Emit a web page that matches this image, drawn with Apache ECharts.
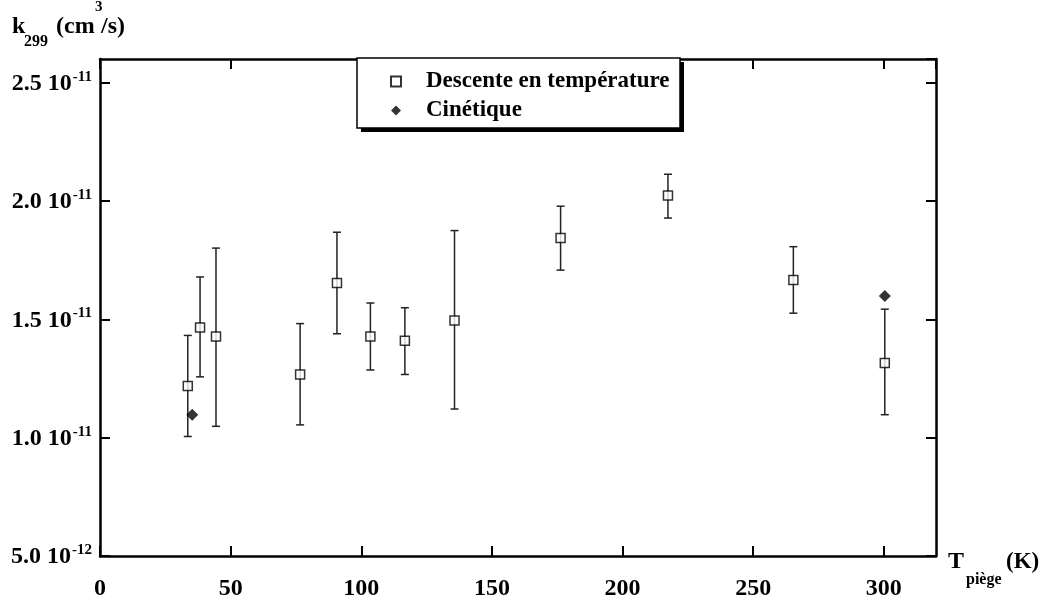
<!DOCTYPE html>
<html>
<head>
<meta charset="utf-8">
<script src="https://cdn.jsdelivr.net/npm/echarts@6/dist/echarts.min.js"></script>
<style>
html,body{margin:0;padding:0;background:#fff;}
#chart{width:1039px;height:601px;}
</style>
</head>
<body>
<div id="chart"></div>
<script>
// Trap temperature (K) and rate constant k299 in units of 1e-11 cm^3/s
const tempDescente = [33.6, 38.3, 44.4, 76.6, 90.7, 103.5, 116.7, 135.7, 176.3, 217.4, 265.4, 300.4];
const kDescente    = [1.218, 1.465, 1.427, 1.267, 1.654, 1.427, 1.409, 1.495, 1.844, 2.023, 1.666, 1.315];
const errLow       = [1.005, 1.257, 1.048, 1.054, 1.439, 1.286, 1.267, 1.121, 1.708, 1.928, 1.526, 1.097];
const errHigh      = [1.432, 1.679, 1.801, 1.482, 1.868, 1.569, 1.549, 1.875, 1.978, 2.113, 1.807, 1.543];
const tempCinetique = [35.3, 300.4];
const kCinetique    = [1.097, 1.599];
const seriesNames = ['Descente en température', 'Cinétique'];
const xTicks = [0, 50, 100, 150, 200, 250, 300];
const yTicks = [0.5, 1.0, 1.5, 2.0, 2.5];

const FONT = '"Liberation Serif", "Times New Roman", serif';
const chart = echarts.init(document.getElementById('chart'));

function yLabel(v) {
  if (v < 1) return '{m|' + (v * 10).toFixed(1) + ' 10}{e|-12}';
  return '{m|' + v.toFixed(1) + ' 10}{e|-11}';
}

const descData = tempDescente.map((t, i) => [t, kDescente[i]]);
const errData = tempDescente.map((t, i) => [t, errLow[i], errHigh[i]]);
const cinData = tempCinetique.map((t, i) => [t, kCinetique[i]]);

const axisLineStyle = { color: '#000', width: 2.5 };
const tickCommon = { show: true, inside: true, length: 10, lineStyle: { color: '#000', width: 2 } };

const option = {
  backgroundColor: '#fff',
  animation: false,
  grid: { left: 100, top: 59, width: 836, height: 503 },
  xAxis: [
    {
      type: 'value', min: 0, max: 320, interval: 50, position: 'bottom',
      axisLine: { onZero: false, lineStyle: axisLineStyle },
      axisTick: tickCommon,
      splitLine: { show: false },
      axisLabel: {
        showMaxLabel: false, margin: 21, color: '#000',
        fontFamily: FONT, fontWeight: 'bold', fontSize: 24,
        formatter: v => xTicks.includes(v) ? String(v) : ''
      }
    },
    {
      type: 'value', min: 0, max: 320, interval: 50, position: 'top',
      axisLine: { onZero: false, lineStyle: axisLineStyle },
      axisTick: tickCommon, axisLabel: { show: false }, splitLine: { show: false }
    }
  ],
  yAxis: [
    {
      type: 'value', min: 0.5, max: 2.6, interval: 0.5, position: 'left',
      axisLine: { onZero: false, lineStyle: axisLineStyle },
      axisTick: tickCommon,
      splitLine: { show: false },
      axisLabel: {
        showMaxLabel: false, margin: 8, color: '#000',
        formatter: v => yTicks.some(t => Math.abs(t - v) < 1e-6) ? yLabel(v) : '',
        rich: {
          m: { fontFamily: FONT, fontWeight: 'bold', fontSize: 24, color: '#000', padding: [2, 0, 0, 0] },
          e: { fontFamily: FONT, fontWeight: 'bold', fontSize: 15, color: '#000', padding: [0, 0, 12, 1] }
        }
      }
    },
    {
      type: 'value', min: 0.5, max: 2.6, interval: 0.5, position: 'right',
      axisLine: { onZero: false, lineStyle: axisLineStyle },
      axisTick: tickCommon, axisLabel: { show: false }, splitLine: { show: false }
    }
  ],
  legend: {
    data: seriesNames,
    orient: 'vertical',
    left: 390, top: 67,
    padding: 0,
    itemGap: 0,
    itemWidth: 10, itemHeight: 10,
    textStyle: { fontFamily: FONT, fontWeight: 'bold', fontSize: 23, lineHeight: 29, color: '#000', padding: [0, 0, 0, 20] },
    z: 10
  },
  series: [
    {
      type: 'custom', name: 'err', xAxisIndex: 0, yAxisIndex: 0, z: 2,
      data: errData,
      renderItem: function (params, api) {
        const x = api.value(0);
        const top = api.coord([x, api.value(2)]);
        const bot = api.coord([x, api.value(1)]);
        const hw = 4;
        const st = { stroke: '#222', lineWidth: 1.5 };
        return {
          type: 'group',
          children: [
            { type: 'line', shape: { x1: top[0], y1: top[1], x2: bot[0], y2: bot[1] }, style: st },
            { type: 'line', shape: { x1: top[0] - hw, y1: top[1], x2: top[0] + hw, y2: top[1] }, style: st },
            { type: 'line', shape: { x1: bot[0] - hw, y1: bot[1], x2: bot[0] + hw, y2: bot[1] }, style: st }
          ]
        };
      }
    },
    {
      type: 'scatter', name: seriesNames[0], data: descData, z: 3,
      symbol: 'rect', symbolSize: 9,
      itemStyle: { color: '#fff', borderColor: '#000', borderWidth: 1.5 }
    },
    {
      type: 'scatter', name: seriesNames[1], data: cinData, z: 3,
      symbol: 'diamond', symbolSize: 12,
      itemStyle: { color: '#000' }
    }
  ],
  graphic: [
    // legend frame with hard drop shadow
    { type: 'rect', z: 8, shape: { x: 361, y: 62, width: 323, height: 70 }, style: { fill: '#000' } },
    { type: 'rect', z: 9, shape: { x: 357, y: 58, width: 323, height: 70 }, style: { fill: '#fff', stroke: '#000', lineWidth: 1.5 } },
    // axis titles
    { type: 'text', x: 12, y: 27, style: { text: 'k', font: 'bold 24px ' + FONT, fill: '#000', verticalAlign: 'middle' } },
    { type: 'text', x: 24, y: 42, style: { text: '299', font: 'bold 16px ' + FONT, fill: '#000', verticalAlign: 'middle' } },
    { type: 'text', x: 56, y: 27, style: { text: '(cm', font: 'bold 24px ' + FONT, fill: '#000', verticalAlign: 'middle' } },
    { type: 'text', x: 95, y: 7, style: { text: '3', font: 'bold 15px ' + FONT, fill: '#000', verticalAlign: 'middle' } },
    { type: 'text', x: 101, y: 27, style: { text: '/s)', font: 'bold 24px ' + FONT, fill: '#000', verticalAlign: 'middle' } },
    { type: 'text', x: 948, y: 562, style: { text: 'T', font: 'bold 24px ' + FONT, fill: '#000', verticalAlign: 'middle' } },
    { type: 'text', x: 966, y: 580, style: { text: 'piège', font: 'bold 16px ' + FONT, fill: '#000', verticalAlign: 'middle' } },
    { type: 'text', x: 1006, y: 562, style: { text: '(K)', font: 'bold 23px ' + FONT, fill: '#000', verticalAlign: 'middle' } }
  ]
};
chart.setOption(option);
</script>
</body>
</html>
